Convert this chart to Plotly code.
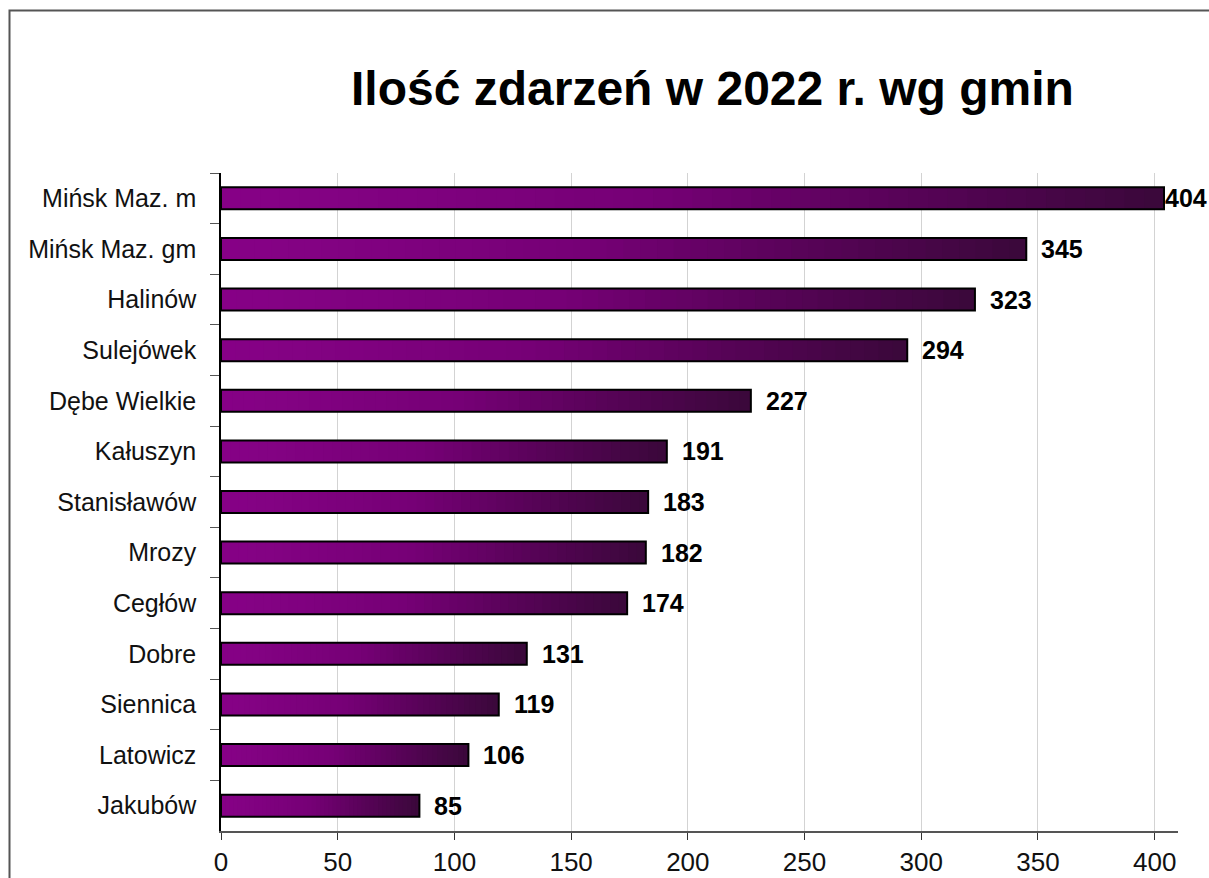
import plotly.graph_objects as go

categories = ["Mińsk Maz. m", "Mińsk Maz. gm", "Halinów", "Sulejówek", "Dębe Wielkie",
              "Kałuszyn", "Stanisławów", "Mrozy", "Cegłów", "Dobre", "Siennica",
              "Latowicz", "Jakubów"]
values = [404, 345, 323, 294, 227, 191, 183, 182, 174, 131, 119, 106, 85]
title_text = "Ilość zdarzeń w 2022 r. wg gmin"
x_ticks = [0, 50, 100, 150, 200, 250, 300, 350, 400]

W, H = 1209, 878
ML, MR, MT, MB = 221, 31, 173, 47
PW, PH = W - ML - MR, H - MT - MB

# gradient stops (fraction along bar -> rgb)
stops = [(0.0, (0x86, 0x00, 0x86)), (0.08, (0x84, 0x02, 0x84)), (0.45, (0x76, 0x00, 0x76)),
         (0.75, (0x55, 0x03, 0x55)), (1.0, (0x3a, 0x08, 0x3a))]


def grad_color(f):
    for (f0, c0), (f1, c1) in zip(stops[:-1], stops[1:]):
        if f0 <= f <= f1:
            t = 0 if f1 == f0 else (f - f0) / (f1 - f0)
            c = [round(a + (b - a) * t) for a, b in zip(c0, c1)]
            return "rgb(%d,%d,%d)" % tuple(c)
    return "rgb(%d,%d,%d)" % stops[-1][1]


FONT = "Liberation Sans, Arial, sans-serif"

fig = go.Figure()
N = 48
for k in range(N):
    frac = 1 - k / N
    fig.add_trace(go.Bar(
        y=categories, x=[v * frac for v in values], orientation="h",
        marker=dict(color=grad_color(frac - 0.5 / N), line=dict(width=0)),
        hoverinfo="skip", showlegend=False))

fig.add_trace(go.Bar(
    y=categories, x=values, orientation="h",
    marker=dict(color="rgba(0,0,0,0)", line=dict(color="#000000", width=2)),
    showlegend=False))

for c, v in zip(categories, values):
    fig.add_annotation(x=v, y=c, text="<b>%d</b>" % v, showarrow=False,
                       xanchor="left", yanchor="middle", xshift=(-1 if v > 395 else 13),
                       font=dict(family=FONT, size=25, color="#000000"))

fig.add_annotation(x=(712 - ML) / PW, y=1 + (MT - 88) / PH, xref="paper", yref="paper",
                   text="<b>%s</b>" % title_text, showarrow=False,
                   xanchor="center", yanchor="middle",
                   font=dict(family=FONT, size=48, color="#000000"))

# outer chart border
fig.add_shape(type="rect", xref="paper", yref="paper",
              x0=(9.5 - ML) / PW, x1=(1240 - ML) / PW,
              y0=1 - (900 - MT) / PH, y1=1 + (MT - 10.5) / PH,
              line=dict(color="#555555", width=2), fillcolor="rgba(0,0,0,0)", layer="below")

fig.update_layout(
    width=W, height=H,
    margin=dict(l=ML, r=MR, t=MT, b=MB, pad=0, autoexpand=False),
    barmode="overlay", bargap=0.565,
    plot_bgcolor="white", paper_bgcolor="white",
    font=dict(family=FONT, color="#000000"),
    xaxis=dict(range=[0, 410], tickvals=x_ticks, showgrid=True, gridcolor="#d3d3d3", gridwidth=1,
               showline=True, linecolor="#555555", linewidth=1.5, ticks="outside", ticklen=7,
               tickcolor="#333333", tickfont=dict(size=26, color="#111111"), zeroline=False,
               fixedrange=True, automargin=False),
    yaxis=dict(autorange="reversed", type="category", tickson="boundaries", ticks="outside",
               ticklen=9, tickcolor="#555555", showline=True, linecolor="#000000", linewidth=1.5,
               tickfont=dict(size=25, color="#111111"), ticklabelstandoff=18, showgrid=False,
               automargin=False),
)

fig.write_html("out.html", config={"displayModeBar": False},
               post_script="document.body.style.margin='0';document.body.style.overflow='hidden';")
